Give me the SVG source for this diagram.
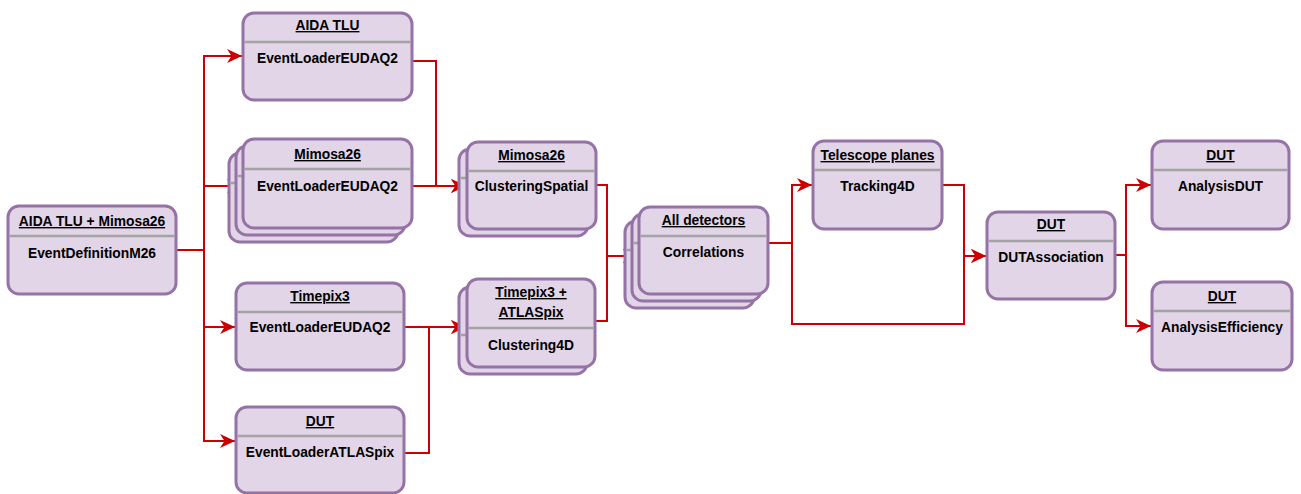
<svg xmlns="http://www.w3.org/2000/svg" width="1301" height="494" viewBox="0 0 1301 494">
  <style>
    .box { fill: #e1d5e7; stroke: #9673a6; stroke-width: 3; }
    .sep { stroke: #a3a3a3; stroke-width: 2.5; }
    .title { font-family: "Liberation Sans", Arial, sans-serif; font-size: 13.8px; font-weight: bold; text-decoration: underline; text-anchor: middle; fill: #000; }
    .body { font-family: "Liberation Sans", Arial, sans-serif; font-size: 13.8px; font-weight: bold; text-anchor: middle; fill: #000; }
    .edge { fill: none; stroke: #cc0000; stroke-width: 2; marker-end: url(#arrow); }
  </style>
  <defs>
    <marker id="arrow" markerUnits="userSpaceOnUse" markerWidth="18" markerHeight="16" refX="15" refY="7.5" orient="auto" overflow="visible">
      <path d="M0,0.5 L15,7.5 L0,14.5 L4.5,7.5 Z" fill="#cc0000"/>
    </marker>
  </defs>

  <rect width="1301" height="494" fill="#ffffff"/>

  <!-- connectors -->
  <g id="connectors">
    <path class="edge" d="M176,250 H204 V56 H242"/>
    <path class="edge" d="M176,250 H204 V186 H242"/>
    <path class="edge" d="M176,250 H204 V327 H235"/>
    <path class="edge" d="M176,250 H204 V441 H235"/>
    <path class="edge" d="M412,61 H436 V186 H466"/>
    <path class="edge" d="M412,186 H466"/>
    <path class="edge" d="M404,327 H466"/>
    <path class="edge" d="M404,453 H429 V327 H466"/>
    <path class="edge" d="M596,185 H607 V256 H638"/>
    <path class="edge" d="M595,321 H607 V256 H638"/>
    <path class="edge" d="M768,243 H792 V185 H812"/>
    <path class="edge" d="M768,243 H792 V324 H964 V256 H986"/>
    <path class="edge" d="M942,185 H964 V256 H986"/>
    <path class="edge" d="M1115,255 H1126 V185 H1151"/>
    <path class="edge" d="M1115,255 H1126 V326 H1151"/>
  </g>

  <!-- event definition -->
  <g id="node-eventdefinition">
    <rect class="box" x="8" y="206" width="168" height="88" rx="11"/>
    <line class="sep" x1="9.5" y1="236" x2="174.5" y2="236"/>
    <text class="title" x="92" y="226">AIDA TLU + Mimosa26</text>
    <text class="body" x="92" y="258">EventDefinitionM26</text>
  </g>

  <g id="node-loader-tlu">
    <rect class="box" x="243" y="13" width="169" height="87" rx="11"/>
    <line class="sep" x1="244.5" y1="42" x2="410.5" y2="42"/>
    <text class="title" x="327.5" y="30">AIDA TLU</text>
    <text class="body" x="327.5" y="63">EventLoaderEUDAQ2</text>
  </g>

  <g id="node-loader-mimosa">
    <rect class="box" x="229" y="153" width="169" height="89" rx="11"/>
    <line class="sep" x1="230.5" y1="183" x2="396.5" y2="183"/>
    <rect class="box" x="236" y="146" width="169" height="89" rx="11"/>
    <line class="sep" x1="237.5" y1="176" x2="403.5" y2="176"/>
    <rect class="box" x="243" y="139" width="169" height="89" rx="11"/>
    <line class="sep" x1="244.5" y1="169" x2="410.5" y2="169"/>
    <text class="title" x="327.5" y="159">Mimosa26</text>
    <text class="body" x="327.5" y="191">EventLoaderEUDAQ2</text>
  </g>

  <g id="node-loader-timepix">
    <rect class="box" x="236" y="283" width="168" height="87" rx="11"/>
    <line class="sep" x1="237.5" y1="312" x2="402.5" y2="312"/>
    <text class="title" x="320" y="301">Timepix3</text>
    <text class="body" x="320" y="332">EventLoaderEUDAQ2</text>
  </g>

  <g id="node-loader-atlaspix">
    <rect class="box" x="236" y="407" width="168" height="86" rx="11"/>
    <line class="sep" x1="237.5" y1="436" x2="402.5" y2="436"/>
    <text class="title" x="320" y="426">DUT</text>
    <text class="body" x="320" y="457">EventLoaderATLASpix</text>
  </g>

  <g id="node-clustering-spatial">
    <rect class="box" x="459" y="149" width="129" height="87" rx="11"/>
    <line class="sep" x1="460.5" y1="178" x2="586.5" y2="178"/>
    <rect class="box" x="467" y="142" width="129" height="87" rx="11"/>
    <line class="sep" x1="468.5" y1="171" x2="594.5" y2="171"/>
    <text class="title" x="531.5" y="160">Mimosa26</text>
    <text class="body" x="531.5" y="191">ClusteringSpatial</text>
  </g>

  <g id="node-clustering-4d">
    <rect class="box" x="459" y="287" width="128" height="87" rx="11"/>
    <line class="sep" x1="460.5" y1="335" x2="585.5" y2="335"/>
    <rect class="box" x="467" y="279" width="128" height="88" rx="11"/>
    <line class="sep" x1="468.5" y1="328" x2="593.5" y2="328"/>
    <text class="title" x="531" y="297">Timepix3 +</text>
    <text class="title" x="531" y="317">ATLASpix</text>
    <text class="body" x="531" y="350">Clustering4D</text>
  </g>

  <g id="node-correlations">
    <rect class="box" x="625" y="221" width="129" height="87" rx="11"/>
    <line class="sep" x1="626.5" y1="250" x2="752.5" y2="250"/>
    <rect class="box" x="632" y="214" width="129" height="87" rx="11"/>
    <line class="sep" x1="633.5" y1="243" x2="759.5" y2="243"/>
    <rect class="box" x="639" y="207" width="129" height="87" rx="11"/>
    <line class="sep" x1="640.5" y1="236" x2="766.5" y2="236"/>
    <text class="title" x="703.5" y="225">All detectors</text>
    <text class="body" x="703.5" y="257">Correlations</text>
  </g>

  <g id="node-tracking">
    <rect class="box" x="813" y="141" width="129" height="88" rx="11"/>
    <line class="sep" x1="814.5" y1="170" x2="940.5" y2="170"/>
    <text class="title" x="877.5" y="160">Telescope planes</text>
    <text class="body" x="877.5" y="191">Tracking4D</text>
  </g>

  <g id="node-dutassociation">
    <rect class="box" x="987" y="212" width="128" height="87" rx="11"/>
    <line class="sep" x1="988.5" y1="241" x2="1113.5" y2="241"/>
    <text class="title" x="1051" y="229">DUT</text>
    <text class="body" x="1051" y="262">DUTAssociation</text>
  </g>

  <g id="node-analysisdut">
    <rect class="box" x="1152" y="141" width="137" height="88" rx="11"/>
    <line class="sep" x1="1153.5" y1="170" x2="1287.5" y2="170"/>
    <text class="title" x="1220.5" y="160">DUT</text>
    <text class="body" x="1220.5" y="191">AnalysisDUT</text>
  </g>

  <g id="node-analysisefficiency">
    <rect class="box" x="1152" y="282" width="140" height="88" rx="11"/>
    <line class="sep" x1="1153.5" y1="311" x2="1290.5" y2="311"/>
    <text class="title" x="1222" y="301">DUT</text>
    <text class="body" x="1222" y="332">AnalysisEfficiency</text>
  </g>
</svg>
